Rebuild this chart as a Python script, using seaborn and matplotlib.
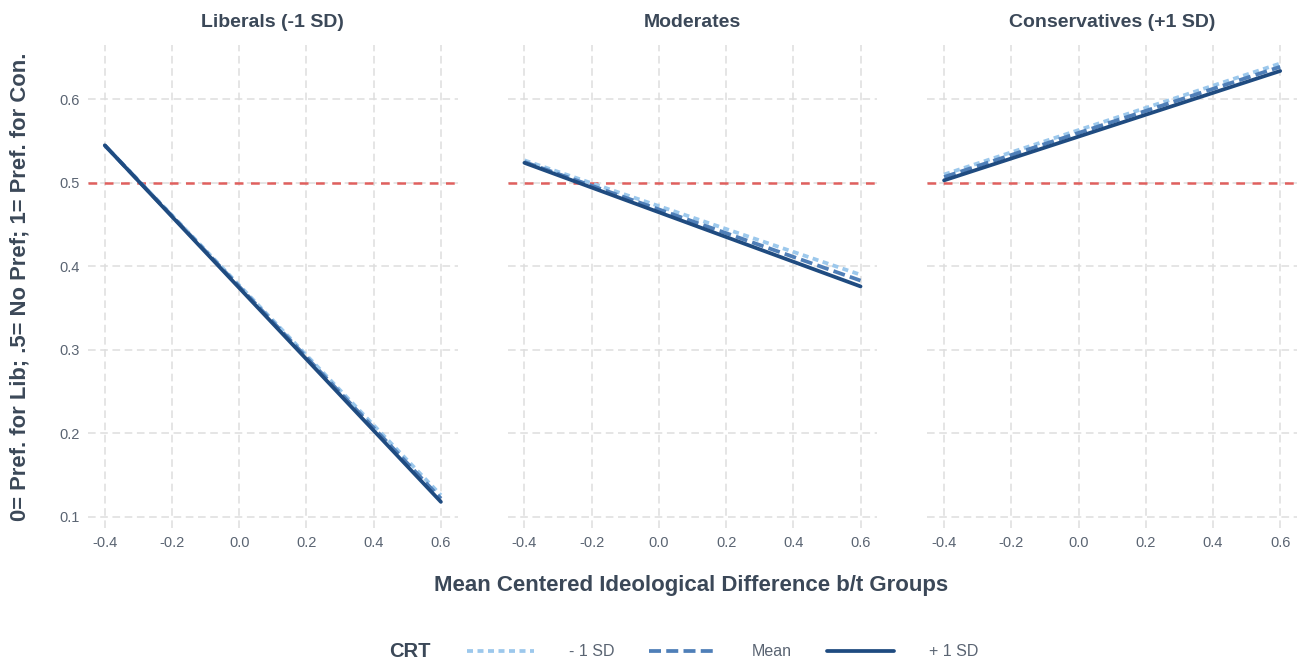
import numpy as np
import pandas as pd
import matplotlib
matplotlib.use("Agg")
import matplotlib.pyplot as plt
import seaborn as sns
from matplotlib.lines import Line2D

panels = ["Liberals (-1 SD)", "Moderates", "Conservatives (+1 SD)"]
crt_levels = ["- 1 SD", "Mean", "+ 1 SD"]
x_vals = [-0.4, 0.6]

lib_minus = [0.545, 0.126]
lib_mean = [0.545, 0.122]
lib_plus = [0.545, 0.118]

mod_minus = [0.527, 0.390]
mod_mean = [0.525, 0.383]
mod_plus = [0.524, 0.376]

con_minus = [0.510, 0.643]
con_mean = [0.507, 0.639]
con_plus = [0.503, 0.634]

x_ticks = [-0.4, -0.2, 0.0, 0.2, 0.4, 0.6]
y_ticks = [0.1, 0.2, 0.3, 0.4, 0.5, 0.6]
ref_line = 0.5

series = {
    "Liberals (-1 SD)": [lib_minus, lib_mean, lib_plus],
    "Moderates": [mod_minus, mod_mean, mod_plus],
    "Conservatives (+1 SD)": [con_minus, con_mean, con_plus],
}

rows = []
for p in panels:
    for lvl, vals in zip(crt_levels, series[p]):
        for x, y in zip(x_vals, vals):
            rows.append({"panel": p, "CRT": lvl, "x": x, "y": y})
df = pd.DataFrame(rows)

sns.set_theme(style="white")
plt.rcParams["font.family"] = ["Liberation Sans", "DejaVu Sans"]

text_col = "#3b4858"
tick_col = "#5a6472"
palette = {"- 1 SD": "#9cc8ec", "Mean": "#4f7fb8", "+ 1 SD": "#1f4b80"}
dashes = {"- 1 SD": (1.6, 1.2), "Mean": (3.2, 1.4), "+ 1 SD": ""}

fig, axes = plt.subplots(1, 3, figsize=(13.03, 6.63), dpi=100, sharey=True)
fig.subplots_adjust(left=0.0675, right=0.9954, top=0.932, bottom=0.204, wspace=0.135)

for ax, p in zip(axes, panels):
    sub = df[df["panel"] == p]
    for y in y_ticks:
        ax.axhline(y, color="#dedede", lw=1.1, ls=(0, (5, 3)), zorder=0)
    for x in x_ticks:
        ax.axvline(x, color="#dedede", lw=1.1, ls=(0, (5, 3)), zorder=0)
    ax.axhline(ref_line, color="#e0605e", lw=1.8, ls=(0, (3.5, 3)), zorder=1)
    sns.lineplot(data=sub, x="x", y="y", hue="CRT", style="CRT",
                 hue_order=crt_levels, style_order=crt_levels,
                 palette=palette, dashes=dashes, linewidth=2.7,
                 ax=ax, legend=False, zorder=3)
    ax.set_xlim(-0.45, 0.65)
    ax.set_ylim(0.087, 0.665)
    ax.set_xticks(x_ticks)
    ax.set_xticklabels([f"{v:.1f}" for v in x_ticks])
    ax.set_yticks(y_ticks)
    ax.set_yticklabels([f"{v:.1f}" for v in y_ticks])
    ax.tick_params(axis="both", length=0, labelsize=10.5, colors=tick_col, pad=6)
    for s in ax.spines.values():
        s.set_visible(False)
    ax.set_title(p, fontsize=14, fontweight="bold", color=text_col, pad=13)
    ax.set_xlabel("")
    ax.set_ylabel("")

fig.text(0.0155, 0.567, "0= Pref. for Lib; .5= No Pref; 1= Pref. for Con.",
         rotation=90, ha="center", va="center", fontsize=15.8,
         fontweight="bold", color=text_col)
fig.text(0.53, 0.117, "Mean Centered Ideological Difference b/t Groups",
         ha="center", va="center", fontsize=16, fontweight="bold", color=text_col)

handles = [Line2D([0], [0], color=palette[l], lw=2.7,
                  ls=(0, dashes[l]) if dashes[l] else "-") for l in crt_levels]
fig.text(0.299, 0.017, "CRT", ha="left", va="center", fontsize=14.5,
         fontweight="bold", color=text_col)
leg = fig.legend(handles, crt_levels, loc="center left", bbox_to_anchor=(0.347, 0.017),
                 ncol=3, frameon=False, handlelength=4.2, handletextpad=2.2,
                 columnspacing=2.2, fontsize=11.5)
for t in leg.get_texts():
    t.set_color(tick_col)

fig.savefig("out.png", dpi=100, facecolor="white")
